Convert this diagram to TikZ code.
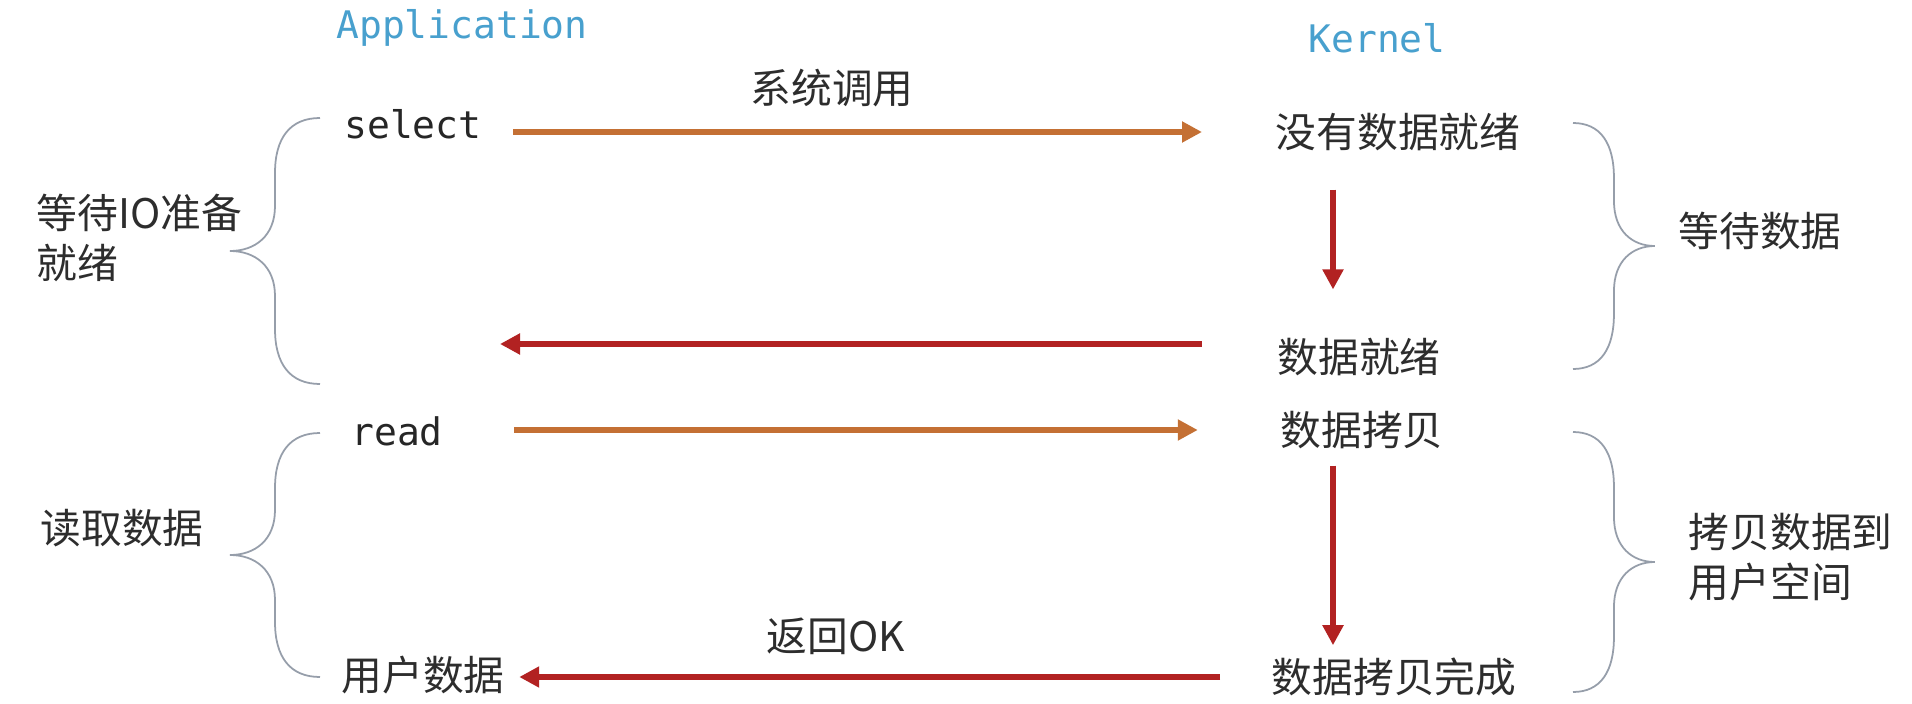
\documentclass[tikz,border=0pt]{standalone}
\usepackage{fontspec}
\usepackage{tikz}
\usetikzlibrary{arrows.meta,positioning,calc}
\newfontfamily\cjkfont{Noto Sans CJK SC}
\newfontfamily\codefont{DejaVu Sans Mono}
\definecolor{appblue}   {RGB}{ 72,160,206}
\definecolor{callorange}{RGB}{196,112, 52}
\definecolor{retred}    {RGB}{178, 34, 34}
\definecolor{brcgray}   {RGB}{150,158,170}
\definecolor{txtgray}   {RGB}{ 45, 45, 45}
\tikzset{
  hdr/.style    ={inner sep=0pt,font=\codefont\fontsize{10.8}{13}\selectfont,
                  text=appblue},
  code/.style   ={inner sep=0pt,font=\codefont\fontsize{10.8}{13}\selectfont,
                  text=black!85},
  txt/.style    ={inner sep=0pt,font=\cjkfont\fontsize{11.6}{14.2}\selectfont,
                  text=txtgray},
  txtl/.style   ={txt,align=left,anchor=west},
  sig/.style    ={-{Triangle[length=2mm,width=2mm]},line width=0.55mm},
  sigo/.style   ={sig,draw=callorange},
  sigr/.style   ={sig,draw=retred},
  brcline/.style={draw=brcgray,line width=0.5pt},
  pics/brc/.style={code={
    \draw[brcline] (0,0) .. controls (-30,0) and (-45,20) .. (-45,55)
      -- (-45,#1-45) .. controls (-45,#1-15) and (-65,#1) .. (-90,#1)
      .. controls (-65,#1) and (-45,#1+15) .. (-45,#1+45)
      -- (-45,2*#1-55) .. controls (-45,2*#1-20) and (-30,2*#1) .. (0,2*#1);
  }},
}

\begin{document}
\begin{tikzpicture}[x=0.1mm,y=-0.1mm]
  \fill[white] (0,0) rectangle (1912,704);
  \useasboundingbox (0,0) rectangle (1912,704);

  % column heads
  \node[hdr] (app)  at (462,28) {Application};
  \node[hdr] (kern) at (1377,38) {Kernel};

  % application side
  \node[code] (sel)  at (413,124) {select};
  \node[code] (rd)   at (397,431) {read};
  \node[txt]  (user) at (423,675) {用户数据};
  \node[txtl] (waitio)   at (36,238) {等待IO准备\\就绪};
  \node[txt]  (readdata) at (122,528) {读取数据};

  % kernel side
  \node[txt]  (nodata) at (1398,132) {没有数据就绪};
  \node[txt]  (ready)  at (1359,357) {数据就绪};
  \node[txt]  (copy)   at (1362,430) {数据拷贝};
  \node[txt]  (done)   at (1394,677) {数据拷贝完成};
  \node[txt]  (waitdata) at (1760,231) {等待数据};
  \node[txtl] (copyuser) at (1688,557) {拷贝数据到\\用户空间};

  % arrow labels
  \node[txt] (call) at (832,88) {系统调用};
  \node[txt] (ret)  at (836,636) {返回OK};

  \coordinate (kline)    at (1333,0);
  \coordinate (appready) at (500,344);

  \draw[sigo,shorten <=3.1mm,shorten >=7.3mm] (sel.east |- nodata.west) -- (nodata.west);
  \draw[sigr,shorten <=3.8mm,shorten >=4.8mm] (nodata.south -| kline) -- (ready.north -| kline);
  \draw[sigr,shorten <=7.5mm] (ready.west |- appready) -- (appready);
  \draw[sigo,shorten <=7.1mm,shorten >=8.2mm] (rd.east |- copy.west) -- (copy.west);
  \draw[sigr,shorten <=1.6mm,shorten >=1.2mm] (copy.south -| kline) -- (done.north -| kline);
  \draw[sigr,shorten <=5.1mm,shorten >=1.4mm] (done.west) -- (done.west -| user.east);

  % braces
  \pic at (320,118) {brc=133};
  \pic at (320,433) {brc=122};
  \pic[xscale=-0.91] at (1573,123) {brc=123};
  \pic[xscale=-0.91] at (1573,432) {brc=130};
\end{tikzpicture}
\end{document}
